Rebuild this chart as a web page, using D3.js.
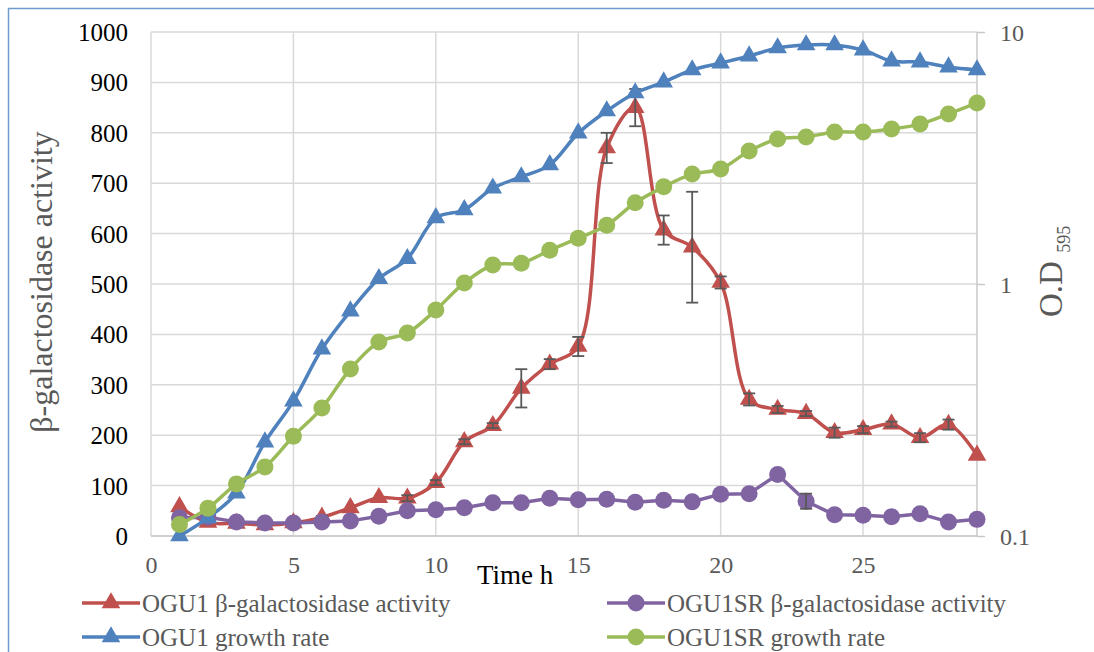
<!DOCTYPE html>
<html>
<head>
<meta charset="utf-8">
<script src="https://cdn.jsdelivr.net/npm/d3@7"></script>
<style>
  body { margin: 0; background: #fff; }
</style>
</head>
<body>
<div id="chart"></div>
<script>
var hours = d3.range(1, 30);

// left axis: beta-galactosidase activity
var ogu1Gal = [58, 27, 25, 22, 26, 37, 56, 76, 75, 106, 187, 219, 293, 341, 376, 770, 850, 607, 573, 503, 271, 251, 243, 205, 211, 222, 195, 221, 160];
var ogu1GalErr = [0, 0, 0, 0, 0, 3, 0, 0, 6, 5, 5, 5, 38, 10, 19, 30, 37, 29, 110, 12, 12, 7, 5, 10, 7, 5, 9, 10, 0];
var ogu1srGal = [36, 37, 28, 26, 26, 28, 30, 39, 50, 52, 56, 66, 66, 75, 72, 73, 67, 71, 68, 83, 84, 122, 69, 42, 41, 38, 44, 28, 33];
var ogu1srGalErr = [0, 0, 0, 0, 0, 0, 0, 0, 0, 0, 0, 0, 0, 0, 0, 0, 0, 0, 0, 0, 0, 0, 15, 0, 0, 0, 0, 0, 0];

// right axis: O.D 595 (log)
var ogu1Od = [0.1, 0.118, 0.148, 0.236, 0.343, 0.552, 0.781, 1.05, 1.26, 1.83, 1.97, 2.40, 2.66, 2.97, 3.97, 4.86, 5.73, 6.33, 7.07, 7.53, 8.03, 8.64, 8.88, 8.88, 8.48, 7.67, 7.60, 7.26, 7.07];
var ogu1srOd = [0.111, 0.129, 0.161, 0.188, 0.249, 0.322, 0.460, 0.589, 0.639, 0.789, 1.01, 1.19, 1.21, 1.36, 1.52, 1.71, 2.10, 2.43, 2.73, 2.86, 3.37, 3.76, 3.83, 4.01, 4.01, 4.12, 4.31, 4.73, 5.23];

var xTicks = [0, 5, 10, 15, 20, 25];
var leftTicks = d3.range(0, 1001, 100);
var rightTicks = [0.1, 1, 10];

var serif = "'Liberation Serif', 'Times New Roman', 'DejaVu Serif', serif";
var width = 1094, height = 652;
var margin = {top: 32, right: 117, bottom: 116, left: 151};

var svg = d3.select("#chart").append("svg")
    .attr("width", width)
    .attr("height", height)
    .attr("font-family", serif);

// outer frame
svg.append("rect")
    .attr("x", 8.5).attr("y", 8.5)
    .attr("width", 1200).attr("height", 800)
    .attr("fill", "none")
    .attr("stroke", "#6f9bd1")
    .attr("stroke-width", 1.5);

var x = d3.scaleLinear().domain([0, 29]).range([margin.left, width - margin.right]);
var yL = d3.scaleLinear().domain([0, 1000]).range([height - margin.bottom, margin.top]);
var yR = d3.scaleLog().domain([0.1, 10]).range([height - margin.bottom, margin.top]);

// grid
svg.append("g").selectAll("line")
    .data(leftTicks)
  .enter().append("line")
    .attr("x1", x(0)).attr("x2", x(29))
    .attr("y1", function(d) { return yL(d); })
    .attr("y2", function(d) { return yL(d); })
    .attr("stroke", "#d9d9d9")
    .attr("stroke-width", 1.5);

svg.append("g").selectAll("line")
    .data(xTicks)
  .enter().append("line")
    .attr("x1", function(d) { return x(d); })
    .attr("x2", function(d) { return x(d); })
    .attr("y1", yL(0)).attr("y2", yL(1000))
    .attr("stroke", "#d9d9d9")
    .attr("stroke-width", 1.5);

// bottom axis line and right axis line
svg.append("line")
    .attr("x1", x(0)).attr("x2", x(29))
    .attr("y1", yL(0)).attr("y2", yL(0))
    .attr("stroke", "#c8c8c8").attr("stroke-width", 1.5);
svg.append("line")
    .attr("x1", x(29)).attr("x2", x(29))
    .attr("y1", yL(0)).attr("y2", yL(1000))
    .attr("stroke", "#c8c8c8").attr("stroke-width", 1.5);

// axes (labels only)
var gx = svg.append("g")
    .attr("transform", "translate(0," + yL(0) + ")")
    .call(d3.axisBottom(x).tickValues(xTicks).tickSize(0).tickPadding(20));
var gl = svg.append("g")
    .attr("transform", "translate(" + x(0) + ",0)")
    .call(d3.axisLeft(yL).tickValues(leftTicks).tickFormat(d3.format("d")).tickSize(0).tickPadding(23));
var gr = svg.append("g")
    .attr("transform", "translate(" + x(29) + ",0)")
    .call(d3.axisRight(yR).tickValues(rightTicks).tickFormat(d3.format("")).tickSize(8).tickPadding(15));

[gx, gl, gr].forEach(function(g) {
  g.attr("font-family", serif).attr("font-size", 24);
  g.select(".domain").remove();
});
gl.attr("font-size", 25);
gx.selectAll("text").attr("fill", "#595959");
gl.selectAll("text").attr("fill", "#000").attr("dy", "0.34em");
gr.selectAll("text").attr("fill", "#595959").attr("dy", "0.34em");
gr.selectAll(".tick line").attr("stroke", "#c8c8c8").attr("stroke-width", 1.5);

// axis titles
svg.append("text")
    .attr("transform", "translate(45," + (yL(500) - 2) + ") rotate(-90)")
    .attr("text-anchor", "middle")
    .attr("dominant-baseline", "middle")
    .attr("fill", "#595959")
    .attr("font-size", 32)
    .text("β-galactosidase activity");

var odTitle = svg.append("text")
    .attr("transform", "translate(1062,317) rotate(-90)")
    .attr("text-anchor", "start")
    .attr("fill", "#595959")
    .attr("font-size", 33);
odTitle.append("tspan").text("O.D ");
odTitle.append("tspan").attr("dy", 8).attr("font-size", 18).text("595");

svg.append("text")
    .attr("x", 477).attr("y", 584)
    .attr("fill", "#000")
    .attr("font-size", 27)
    .text("Time h");

// series
var smooth = d3.line().curve(d3.curveCatmullRom.alpha(0.5));
var straight = d3.line();

var series = [
  {name: "OGU1 β-galactosidase activity", vals: ogu1Gal, err: ogu1GalErr, y: yL, color: "#c0504d", marker: "tri", curve: smooth},
  {name: "OGU1SR β-galactosidase activity", vals: ogu1srGal, err: ogu1srGalErr, y: yL, color: "#8064a2", marker: "dot", curve: straight},
  {name: "OGU1 growth rate", vals: ogu1Od, err: null, y: yR, color: "#4f81bd", marker: "tri", curve: smooth},
  {name: "OGU1SR growth rate", vals: ogu1srOd, err: null, y: yR, color: "#9bbb59", marker: "dot", curve: smooth}
];

var tri = d3.symbol().type(d3.symbolTriangle).size(150);

function drawMarker(g, s, cx, cy) {
  if (s.marker == "tri") {
    g.append("path")
      .attr("d", tri())
      .attr("transform", "translate(" + cx + "," + cy + ")")
      .attr("fill", s.color);
  } else {
    g.append("circle")
      .attr("cx", cx).attr("cy", cy).attr("r", 8.5)
      .attr("fill", s.color);
  }
}

series.forEach(function(s) {
  var pts = hours.map(function(h, i) { return [x(h), s.y(s.vals[i])]; });
  var g = svg.append("g");
  g.append("path")
    .attr("d", s.curve(pts))
    .attr("fill", "none")
    .attr("stroke", s.color)
    .attr("stroke-width", 3.5)
    .attr("stroke-linejoin", "round");
  pts.forEach(function(p) { drawMarker(g, s, p[0], p[1]); });

  if (s.err) {
    var eg = svg.append("g").attr("stroke", "#595959").attr("stroke-width", 1.8);
    hours.forEach(function(h, i) {
      var e = s.err[i];
      if (!e) return;
      var cx = x(h), top = s.y(s.vals[i] + e), bot = s.y(s.vals[i] - e);
      eg.append("line").attr("x1", cx).attr("x2", cx).attr("y1", top).attr("y2", bot);
      eg.append("line").attr("x1", cx - 6).attr("x2", cx + 6).attr("y1", top).attr("y2", top);
      eg.append("line").attr("x1", cx - 6).attr("x2", cx + 6).attr("y1", bot).attr("y2", bot);
    });
  }
});

// legend
var legendPos = [[82, 603], [607, 603], [82, 637], [607, 637]];
series.forEach(function(s, i) {
  var lx = legendPos[i][0], ly = legendPos[i][1];
  var g = svg.append("g");
  g.append("line")
    .attr("x1", lx).attr("x2", lx + 58)
    .attr("y1", ly).attr("y2", ly)
    .attr("stroke", s.color).attr("stroke-width", 3.5);
  drawMarker(g, s, lx + 29, ly);
  g.append("text")
    .attr("x", lx + 60).attr("y", ly)
    .attr("dy", "0.34em")
    .attr("fill", "#595959")
    .attr("font-size", 25)
    .text(s.name);
});
</script>
</body>
</html>
